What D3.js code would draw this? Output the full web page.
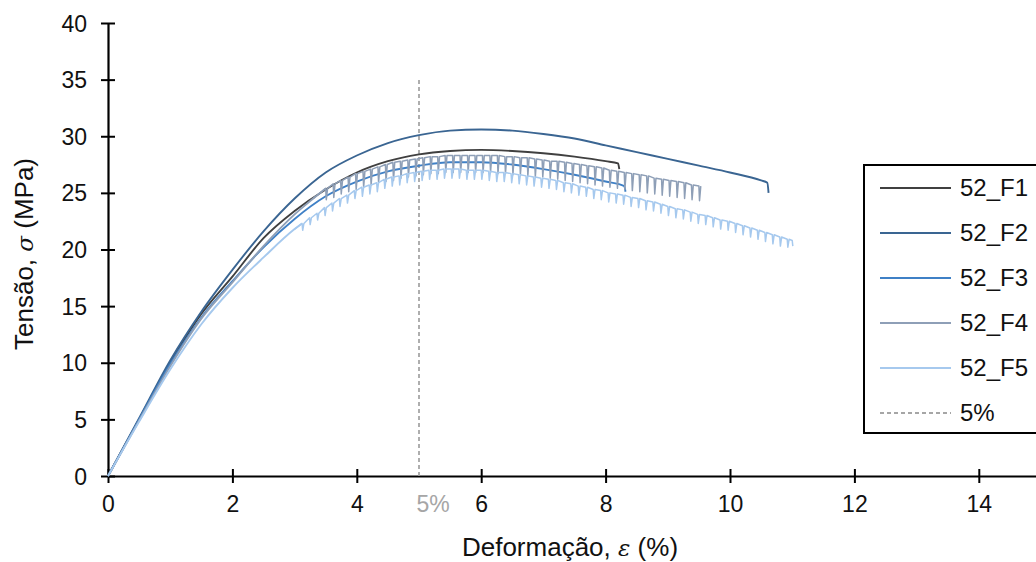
<!DOCTYPE html>
<html><head><meta charset="utf-8">
<script src="https://cdn.jsdelivr.net/npm/d3@7"></script>
<style>
html,body{margin:0;padding:0;background:#fff;overflow:hidden}
text{font-family:"Liberation Sans",Arial,sans-serif}
</style></head>
<body><svg id="c" width="1036" height="562"></svg>
<script>
// ---------- data ----------
const strainTicks = [0, 2, 4, 6, 8, 10, 12, 14];
const stressTicks = [0, 5, 10, 15, 20, 25, 30, 35, 40];
const seriesNames = ["52_F1", "52_F2", "52_F3", "52_F4", "52_F5"];
const refLabel = "5%";
const refStrain = 5;
const refStressTop = 35;

const f1Strain = [0, 0.5, 1, 1.5, 2, 2.5, 3, 3.5, 4, 4.5, 5, 5.5, 6, 6.5, 7, 7.5, 8, 8.2, 8.22];
const f1Stress = [0, 5, 10, 14.3, 17.6, 21.0, 23.4, 25.3, 26.8, 27.8, 28.4, 28.7, 28.8, 28.7, 28.5, 28.2, 27.8, 27.6, 27.1];

const f2Strain = [0, 0.5, 1, 1.5, 2, 2.5, 3, 3.5, 4, 4.5, 5, 5.5, 6, 6.5, 7, 7.5, 8, 8.5, 9, 9.5, 10, 10.5, 10.6, 10.62];
const f2Stress = [0, 5.1, 10.2, 14.5, 18.2, 21.6, 24.5, 26.8, 28.3, 29.4, 30.1, 30.5, 30.6, 30.5, 30.2, 29.8, 29.2, 28.6, 28.0, 27.4, 26.8, 26.1, 25.9, 25.0];

const f3Strain = [0, 0.5, 1, 1.5, 2, 2.5, 3, 3.5, 4, 4.5, 5, 5.5, 6, 6.5, 7, 7.5, 8, 8.3, 8.32];
const f3Stress = [0, 5, 9.9, 14, 17.2, 20.2, 22.7, 24.7, 26.0, 26.9, 27.4, 27.7, 27.7, 27.5, 27.1, 26.6, 26.0, 25.6, 25.1];

// F4: smooth loading part, then serrated part as [strain, upper stress, dip stress]
const f4Strain = [0, 0.5, 1, 1.5, 2, 2.5, 3, 3.3];
const f4Stress = [0, 4.9, 9.7, 13.9, 17.1, 20.3, 23.1, 24.5];
const f4Teeth = [
 [3.50,25.4,24.4],[3.62,25.8,24.6],[3.74,26.1,24.9],[3.86,26.4,25.1],[3.98,26.7,25.3],
 [4.10,26.9,25.5],[4.22,27.1,25.7],[4.34,27.3,25.9],[4.46,27.5,26.0],[4.58,27.7,26.1],
 [4.70,27.8,26.3],[4.82,27.9,26.4],[4.94,28.0,26.5],[5.06,28.1,26.6],[5.18,28.2,26.7],
 [5.30,28.2,26.7],[5.42,28.3,26.8],[5.54,28.3,26.8],[5.66,28.3,26.8],[5.78,28.3,26.8],
 [5.90,28.3,26.8],[6.02,28.3,26.8],[6.14,28.3,26.8],[6.26,28.3,26.7],[6.38,28.2,26.7],
 [6.50,28.2,26.6],[6.62,28.1,26.6],[6.74,28.1,26.5],[6.86,28.0,26.4],[6.98,27.9,26.4],
 [7.10,27.8,26.3],[7.22,27.8,26.2],[7.34,27.7,26.1],[7.46,27.6,26.0],[7.58,27.5,25.9],
 [7.70,27.4,25.8],[7.82,27.3,25.7],[7.94,27.2,25.6],[8.06,27.0,25.5],[8.18,26.9,25.4],
 [8.30,26.8,25.3],[8.42,26.7,25.2],[8.54,26.6,25.1],[8.66,26.5,25.0],[8.78,26.3,24.9],
 [8.90,26.2,24.8],[9.02,26.1,24.7],[9.14,26.0,24.6],[9.26,25.9,24.5],[9.38,25.7,24.4],
 [9.50,25.6,24.3]
];

// F5: smooth loading part, serrated part, then final points
const f5Strain = [0, 0.5, 1, 1.5, 2, 2.5, 3];
const f5Stress = [0, 4.8, 9.4, 13.4, 16.6, 19.3, 21.8];
const f5Teeth = [
 [3.12,22.3,21.7],[3.24,22.8,22.2],[3.36,23.2,22.6],[3.48,23.7,23.0],[3.60,24.1,23.4],
 [3.72,24.5,23.8],[3.84,24.8,24.1],[3.96,25.2,24.5],[4.08,25.5,24.7],[4.20,25.7,24.9],
 [4.32,25.9,25.1],[4.44,26.2,25.4],[4.56,26.4,25.6],[4.68,26.5,25.7],[4.80,26.7,25.9],
 [4.92,26.8,26.0],[5.04,26.9,26.1],[5.16,27.0,26.2],[5.28,27.0,26.2],[5.40,27.1,26.3],
 [5.52,27.1,26.3],[5.64,27.1,26.3],[5.76,27.0,26.2],[5.88,27.0,26.2],[6.00,27.0,26.2],
 [6.12,26.9,26.1],[6.24,26.8,26.0],[6.36,26.8,26.0],[6.48,26.7,25.9],[6.60,26.6,25.8],
 [6.72,26.5,25.7],[6.84,26.4,25.6],[6.96,26.3,25.5],[7.08,26.2,25.4],[7.20,26.1,25.3],
 [7.32,25.9,25.1],[7.44,25.8,25.0],[7.56,25.6,24.8],[7.68,25.5,24.7],[7.80,25.3,24.5],
 [7.92,25.2,24.4],[8.04,25.0,24.2],[8.16,24.9,24.1],[8.28,24.8,24.0],[8.40,24.6,23.8],
 [8.52,24.5,23.7],[8.64,24.3,23.5],[8.76,24.2,23.4],[8.88,24.0,23.2],[9.00,23.8,23.0],
 [9.12,23.6,22.8],[9.24,23.5,22.7],[9.36,23.3,22.5],[9.48,23.1,22.3],[9.60,23.0,22.2],
 [9.72,22.8,22.0],[9.84,22.6,21.8],[9.96,22.5,21.7],[10.08,22.3,21.5],[10.20,22.1,21.3],
 [10.32,21.9,21.1],[10.44,21.7,20.9],[10.56,21.5,20.7],[10.68,21.3,20.5],[10.80,21.1,20.3],
 [10.92,20.9,20.2]
];
const f5EndStrain = [11.0, 11.01];
const f5EndStress = [20.8, 20.3];

const colors = ["#404040", "#3a6592", "#3f80c6", "#8e9fb7", "#a6c9ee"];
const refColor = "#a6a6a6";

// ---------- helpers ----------
const zip = (xs, ys) => xs.map((v, i) => [v, ys[i]]);
function teethPoints(teeth) {
  const pts = [];
  teeth.forEach(t => { pts.push([t[0], t[1]], [t[0] + 0.01, t[2]], [t[0] + 0.03, t[1]]); });
  return pts;
}
// each series: smooth part (curved) + optional serrated part (straight segments)
const series = [
  { smooth: zip(f1Strain, f1Stress), rough: null },
  { smooth: zip(f2Strain, f2Stress), rough: null },
  { smooth: zip(f3Strain, f3Stress), rough: null },
  { smooth: zip(f4Strain, f4Stress), rough: teethPoints(f4Teeth) },
  { smooth: zip(f5Strain, f5Stress), rough: teethPoints(f5Teeth).concat(zip(f5EndStrain, f5EndStress)) }
];

// ---------- chart ----------
const svg = d3.select("#c");
const x = d3.scaleLinear().domain([0, 16]).range([108, 1103.2]);
const y = d3.scaleLinear().domain([0, 40]).range([476, 23]);

const xAxis = svg.append("g").attr("transform", `translate(0,${y(0)})`)
  .call(d3.axisBottom(x).tickValues(strainTicks).tickSize(7).tickSizeOuter(0).tickFormat(d3.format("d")));
xAxis.select(".domain").attr("stroke", "#000").attr("stroke-width", 2.2);
xAxis.selectAll(".tick line").attr("y1", -7).attr("y2", 7).attr("stroke", "#000").attr("stroke-width", 2);
xAxis.selectAll(".tick text").attr("y", 36).attr("dy", 0).attr("font-size", 23).attr("fill", "#111")
  .attr("font-family", '"Liberation Sans",Arial,sans-serif');

const yAxis = svg.append("g").attr("transform", `translate(${x(0)},0)`)
  .call(d3.axisLeft(y).tickValues(stressTicks).tickSize(7).tickSizeOuter(0).tickFormat(d3.format("d")));
yAxis.select(".domain").attr("stroke", "#000").attr("stroke-width", 2.2);
yAxis.selectAll(".tick line").attr("x1", -7).attr("x2", 7).attr("stroke", "#000").attr("stroke-width", 2);
yAxis.selectAll(".tick text").attr("x", -21).attr("dy", "0.35em").attr("font-size", 23).attr("fill", "#111")
  .attr("font-family", '"Liberation Sans",Arial,sans-serif');

// reference dashed line at 5%
svg.append("line")
  .attr("x1", x(refStrain)).attr("x2", x(refStrain))
  .attr("y1", y(0)).attr("y2", y(refStressTop))
  .attr("stroke", refColor).attr("stroke-width", 1.8).attr("stroke-dasharray", "4,3");
svg.append("text").attr("x", x(refStrain) + 14).attr("y", y(0) + 36)
  .attr("text-anchor", "middle").attr("font-size", 23).attr("fill", refColor).text(refLabel);

// series lines
const smoothLine = d3.line().x(d => x(d[0])).y(d => y(d[1])).curve(d3.curveMonotoneX);
const roughLine = d3.line().x(d => x(d[0])).y(d => y(d[1]));
series.forEach((s, i) => {
  const g = svg.append("g").attr("fill", "none").attr("stroke", colors[i]).attr("stroke-linejoin", "round");
  const sm = s.rough ? s.smooth.concat([s.rough[0]]) : s.smooth;
  g.append("path").datum(sm).attr("d", smoothLine).attr("stroke-width", 1.9);
  if (s.rough) {
    g.append("path").datum([s.smooth[s.smooth.length - 1]].concat(s.rough)).attr("d", roughLine)
      .attr("stroke-width", 1.5);
  }
});

// axis titles
const xt = svg.append("text").attr("x", 570).attr("y", 556).attr("text-anchor", "middle")
  .attr("font-size", 26).attr("fill", "#111");
xt.append("tspan").text("Deformação, ");
xt.append("tspan").attr("font-style", "italic").attr("font-family", '"DejaVu Serif",serif').attr("font-size", 23).text("ε");
xt.append("tspan").text(" (%)");

const yt = svg.append("text").attr("transform", "translate(33,254) rotate(-90)").attr("text-anchor", "middle")
  .attr("font-size", 26).attr("fill", "#111");
yt.append("tspan").text("Tensão, ");
yt.append("tspan").attr("font-style", "italic").attr("font-family", '"DejaVu Serif",serif').attr("font-size", 23).text("σ");
yt.append("tspan").text(" (MPa)");

// legend
const lg = svg.append("g");
lg.append("rect").attr("x", 864).attr("y", 165).attr("width", 200).attr("height", 268)
  .attr("fill", "#fff").attr("stroke", "#000").attr("stroke-width", 2);
const legendItems = seriesNames.map((n, i) => ({ name: n, color: colors[i], dash: null }))
  .concat([{ name: refLabel, color: refColor, dash: "4,3" }]);
legendItems.forEach((d, i) => {
  const cy = 188 + i * 45;
  lg.append("line").attr("x1", 880).attr("x2", 951).attr("y1", cy).attr("y2", cy)
    .attr("stroke", d.color).attr("stroke-width", 2).attr("stroke-dasharray", d.dash);
  lg.append("text").attr("x", 960).attr("y", cy).attr("dy", "0.35em").attr("font-size", 24)
    .attr("fill", "#111").text(d.name);
});
</script></body></html>
